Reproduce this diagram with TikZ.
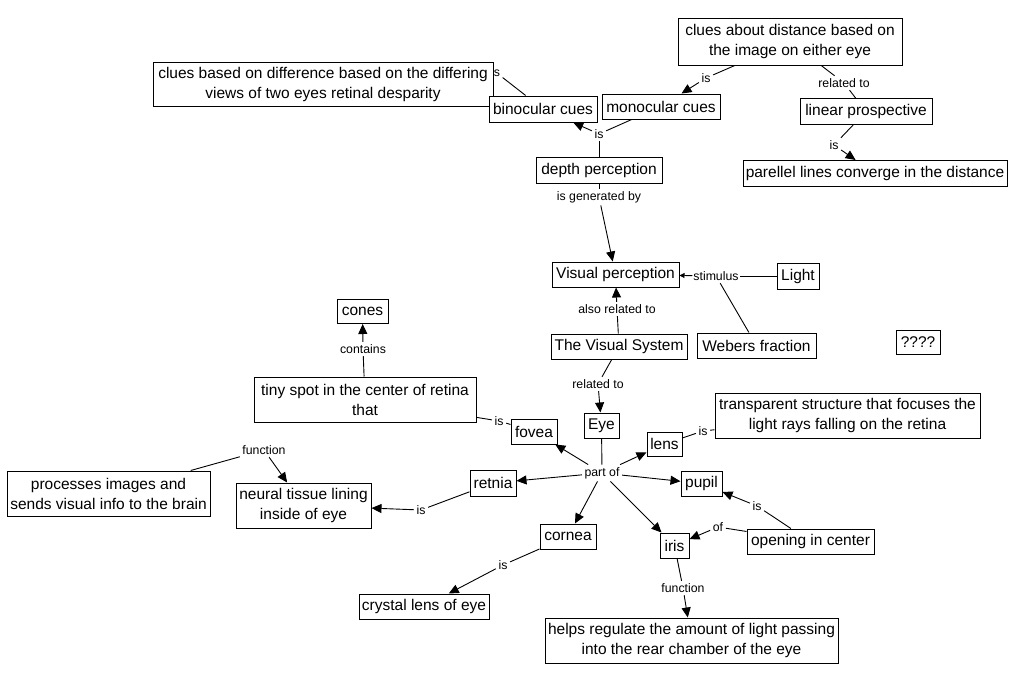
\documentclass[tikz,border=0pt]{standalone}
\usepackage{fontspec}
\setmainfont{Liberation Sans}
\usetikzlibrary{arrows.meta}
\begin{document}
\begin{tikzpicture}[x=1pt,y=-1pt,
  cbox/.style={draw, line width=1pt, fill=white, inner sep=0pt, align=center, font=\fontsize{15.5}{20}\selectfont},
  lbl/.style={inner sep=2.5pt, font=\fontsize{12.3}{14}\selectfont},
  con/.style={line width=0.9pt},
  arr/.style={con, -{Triangle[length=10pt,width=9pt]}},
  sarr/.style={con, -{Triangle[length=5pt,width=5pt]}}]
\fill[white] (0,0) rectangle (1010,683);
\useasboundingbox (0,0) rectangle (1010,683);

% label partly hidden under the box
\node[lbl] (isBC) at (495.5,72) {is};

% concepts
\node[cbox, minimum width=224, minimum height=47] (cluesAbout) at (790,41.5) {clues about distance based on\\the image on either eye};
\node[cbox, minimum width=340, minimum height=44] (cluesDiff) at (323,84) {clues based on difference based on the differing\\views of two eyes retinal desparity};
\node[cbox, minimum width=108, minimum height=26] (binoc) at (543,109) {binocular cues};
\node[cbox, minimum width=118, minimum height=25] (monoc) at (661,106.5) {monocular cues};
\node[cbox, minimum width=132, minimum height=26] (linear) at (866,111.5) {linear prospective};
\node[cbox, minimum width=264, minimum height=26] (parallel) at (875,173.5) {parellel lines converge in the distance};
\node[cbox, minimum width=126, minimum height=26] (depth) at (599,170) {depth perception};
\node[cbox, minimum width=127, minimum height=25] (visual) at (615.5,274.5) {Visual perception};
\node[cbox, minimum width=42, minimum height=26] (light) at (798,276) {Light};
\node[cbox, minimum width=119, minimum height=25] (webers) at (756.5,345.5) {Webers fraction};
\node[cbox, minimum width=44, minimum height=24] (qmarks) at (918,342) {????};
\node[cbox, minimum width=51, minimum height=24] (cones) at (362.5,311.5) {cones};
\node[cbox, minimum width=136, minimum height=25] (vissys) at (619,346.5) {The Visual System};
\node[cbox, minimum width=222, minimum height=45] (tiny) at (365,399.5) {tiny spot in the center of retina\\that};
\node[cbox, minimum width=35, minimum height=25] (eye) at (601.5,425.5) {Eye};
\node[cbox, minimum width=46, minimum height=25] (fovea) at (534,431.5) {fovea};
\node[cbox, minimum width=35, minimum height=24] (lens) at (664.5,444) {lens};
\node[cbox, minimum width=265, minimum height=45] (transp) at (847.5,415.5) {transparent structure that focuses the\\light rays falling on the retina};
\node[cbox, minimum width=46, minimum height=26] (retnia) at (493,483) {retnia};
\node[cbox, minimum width=41, minimum height=25] (pupil) at (701.5,483.5) {pupil};
\node[cbox, minimum width=203, minimum height=45] (processes) at (108.5,493.5) {processes images and\\sends visual info to the brain};
\node[cbox, minimum width=135, minimum height=45] (neural) at (303.5,505.5) {neural tissue lining\\inside of eye};
\node[cbox, minimum width=56, minimum height=25] (cornea) at (568,536.5) {cornea};
\node[cbox, minimum width=29, minimum height=25] (iris) at (674.5,545.5) {iris};
\node[cbox, minimum width=127, minimum height=25] (opening) at (810.5,541.5) {opening in center};
\node[cbox, minimum width=130, minimum height=25] (crystal) at (424,606.5) {crystal lens of eye};
\node[cbox, minimum width=293, minimum height=45] (helps) at (691.5,640.5) {helps regulate the amount of light passing\\into the rear chamber of the eye};

% linking phrases
\node[lbl] (isDepth) at (599,134) {is};
\node[lbl] (isMono) at (706,78) {is};
\node[lbl] (relTop) at (844,83) {related to};
\node[lbl] (isLin) at (834,145) {is};
\node[lbl] (isgen) at (599,197) {is generated by};
\node[lbl, inner xsep=1pt] (stim) at (716,276) {stimulus};
\node[lbl] (alsorel) at (617,309) {also related to};
\node[lbl] (relto) at (598,384) {related to};
\node[lbl] (contains) at (363,349) {contains};
\node[lbl] (isFovea) at (499,421) {is};
\node[lbl] (partof) at (602,473) {part of};
\node[lbl] (isLens) at (703,431) {is};
\node[lbl] (isRet) at (421,510) {is};
\node[lbl] (funcProc) at (264,450) {function};
\node[lbl] (isCorn) at (503,565) {is};
\node[lbl] (isPupil) at (757,506) {is};
\node[lbl] (of) at (718,527) {of};
\node[lbl] (funcIris) at (683,588) {function};

% connectors
\draw[con] (depth) -- (isDepth);
\draw[con] (monoc) -- (isDepth);
\draw[arr] (isDepth) -- (binoc);
\draw[con] (binoc) -- (isBC);
\draw[con] (cluesAbout) -- (isMono);
\draw[arr] (isMono) -- (monoc);
\draw[con] (cluesAbout) -- (relTop);
\draw[con] (relTop) -- (linear);
\draw[con] (linear) -- (isLin);
\draw[arr] (isLin) -- (parallel);
\draw[con] (depth) -- (isgen);
\draw[arr] (isgen) -- (visual);
\draw[con] (light) -- (stim);
\draw[con] (webers) -- (stim);
\draw[sarr] (stim) -- (visual);
\draw[con] (vissys) -- (alsorel);
\draw[arr] (alsorel) -- (visual);
\draw[con] (vissys) -- (relto);
\draw[arr] (relto) -- (eye);
\draw[con] (tiny) -- (contains);
\draw[arr] (contains) -- (cones);
\draw[con] (tiny) -- (isFovea);
\draw[con] (isFovea) -- (fovea);
\draw[con] (eye) -- (partof);
\draw[arr] (partof) -- (fovea);
\draw[arr] (partof) -- (lens);
\draw[arr] (partof) -- (retnia);
\draw[arr] (partof) -- (pupil);
\draw[arr] (partof) -- (cornea);
\draw[arr] (partof) -- (iris);
\draw[con] (lens) -- (isLens);
\draw[con] (isLens) -- (transp);
\draw[con] (retnia) -- (isRet);
\draw[arr] (isRet) -- (neural);
\draw[con] (processes) -- (funcProc);
\draw[arr] (funcProc) -- (neural);
\draw[con] (cornea) -- (isCorn);
\draw[arr] (isCorn) -- (crystal);
\draw[con] (opening) -- (isPupil);
\draw[arr] (isPupil) -- (pupil);
\draw[con] (opening) -- (of);
\draw[arr] (of) -- (iris);
\draw[con] (iris) -- (funcIris);
\draw[arr] (funcIris) -- (helps);
\end{tikzpicture}
\end{document}
